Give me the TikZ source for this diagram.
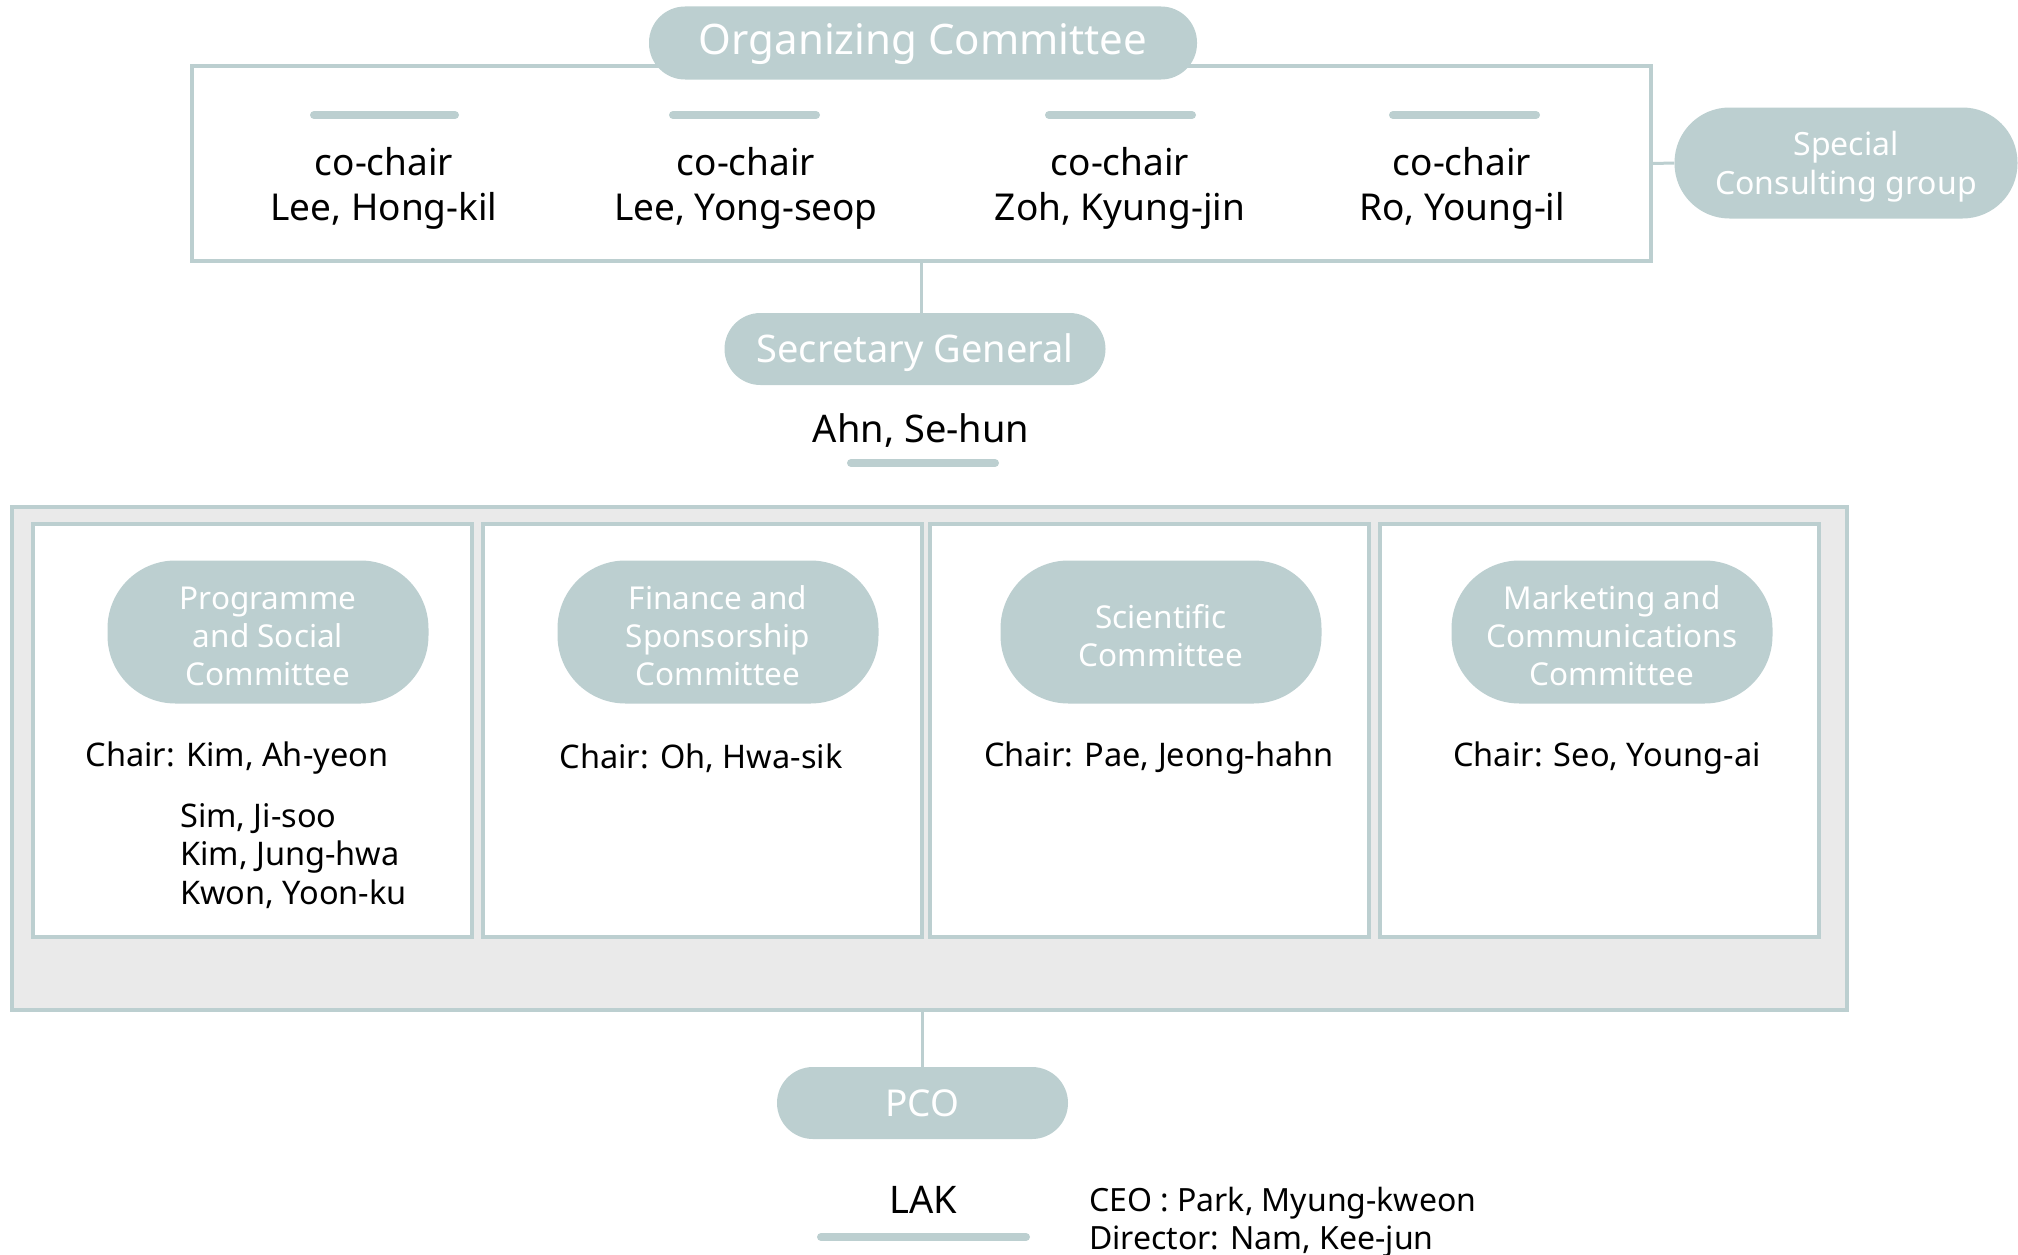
\documentclass[tikz,border=0pt]{standalone}
\usepackage{fontspec}
\setmainfont{Noto Sans}
\definecolor{pillc}{HTML}{BCCFD0}
\definecolor{grayfill}{HTML}{EAEAEA}
\newcommand{\lowtext}[2]{\raisebox{-#1}[\height][\depth]{\begin{tabular}{@{}c@{}}#2\end{tabular}}}
\begin{document}
\begin{tikzpicture}[x=1pt,y=-1pt,
  pill/.style={fill=pillc,text=white,align=center,inner sep=0pt},
  boxline/.style={draw=pillc,line width=4pt},
  bar/.style={draw=pillc,line width=8pt,line cap=round},
  conn/.style={draw=pillc,line width=3pt},
  big/.style={font=\fontsize{37}{45}\selectfont,align=center,text=black},
  mid/.style={font=\fontsize{32.5}{38.6}\selectfont,text=black}
]
\useasboundingbox (0,0) rectangle (2018,1255);
% top box
\node[boxline,minimum width=1459pt,minimum height=195pt,inner sep=0pt] (topbox) at (921.5,163.5) {};
\node[pill,rounded corners=36pt,minimum width=548pt,minimum height=73pt,font=\fontsize{42}{48}\selectfont] (oc) at (923,43) {\lowtext{1.5pt}{Organizing Committee}};
% bars
\draw[bar] (314,115) -- (455,115);
\draw[bar] (673,115) -- (816,115);
\draw[bar] (1049,115) -- (1192,115);
\draw[bar] (1393,115) -- (1536,115);
\node[big] (c1) at (384,188) {co-chair\\Lee, Hong-kil};
\node[big] (c2) at (746,188) {co-chair\\Lee, Yong-seop};
\node[big] (c3) at (1120,188) {co-chair\\Zoh, Kyung-jin};
\node[big] (c4) at (1462,188) {co-chair\\Ro, Young-il};
% special
\node[pill,rounded corners=55pt,minimum width=343pt,minimum height=111pt,font=\fontsize{32}{39}\selectfont] (special) at (1846,163) {\lowtext{4pt}{Special\\Consulting group}};
\draw[conn] (topbox.east) -- (special.west);
% secretary
\node[pill,rounded corners=36pt,minimum width=381pt,minimum height=72pt,font=\fontsize{38}{44}\selectfont] (sec) at (915,349) {\lowtext{5pt}{Secretary General}};
\draw[conn] (topbox.south) -- (topbox.south |- sec.north);
\node[big,font=\fontsize{38}{45}\selectfont] (ahn) at (921,431) {Ahn, Se-hun};
\draw[bar] (851,463) -- (995,463);
% gray box
\node[draw=pillc,fill=grayfill,line width=4pt,minimum width=1835pt,minimum height=503pt,inner sep=0pt] (gbox) at (929.5,758.5) {};
\foreach \cx/\nm in {252.5/b1,702/b2,1149.5/b3,1599/b4}{
  \node[draw=pillc,fill=white,line width=4pt,minimum width=439pt,minimum height=413pt,inner sep=0pt] (\nm) at (\cx,730.5) {};
}
\foreach \cx/\nm/\txt in {268/p1/{Programme\\and Social\\Committee},718/p2/{Finance and\\Sponsorship\\Committee},1161/p3/{Scientific\\Committee},1612/p4/{Marketing and\\Communications\\Committee}}{
  \node[pill,rounded corners=68pt,minimum width=321pt,minimum height=143pt,font=\fontsize{31.5}{38}\selectfont] (\nm) at (\cx,632) {\lowtext{8pt}{\txt}};
}
\node[mid,anchor=west] (ch1) at (82,758) {Chair: Kim, Ah-yeon};
\node[mid] (ch2) at (701,758) {Chair: Oh, Hwa-sik};
\node[mid] (ch3) at (1159,758) {Chair: Pae, Jeong-hahn};
\node[mid] (ch4) at (1607,758) {Chair: Seo, Young-ai};
\node[mid,anchor=north west,align=left,inner sep=0pt] (mem) at (180,803) {Sim, Ji-soo\\Kim, Jung-hwa\\Kwon, Yoon-ku};
% PCO
\node[pill,rounded corners=36pt,minimum width=291pt,minimum height=72pt,font=\fontsize{37}{42}\selectfont] (pco) at (922.5,1103) {\lowtext{5.5pt}{PCO}};
\draw[conn] (pco.north) -- (pco.north |- gbox.south);
\node[big,font=\fontsize{38}{45}\selectfont] (lak) at (923,1200) {LAK};
\draw[bar] (821,1237) -- (1026,1237);
\node[mid,font=\fontsize{32}{38}\selectfont,anchor=north west,align=left,inner sep=0pt] (ceo) at (1089,1187) {CEO : Park, Myung-kweon\\Director: Nam, Kee-jun};
\end{tikzpicture}
\end{document}
